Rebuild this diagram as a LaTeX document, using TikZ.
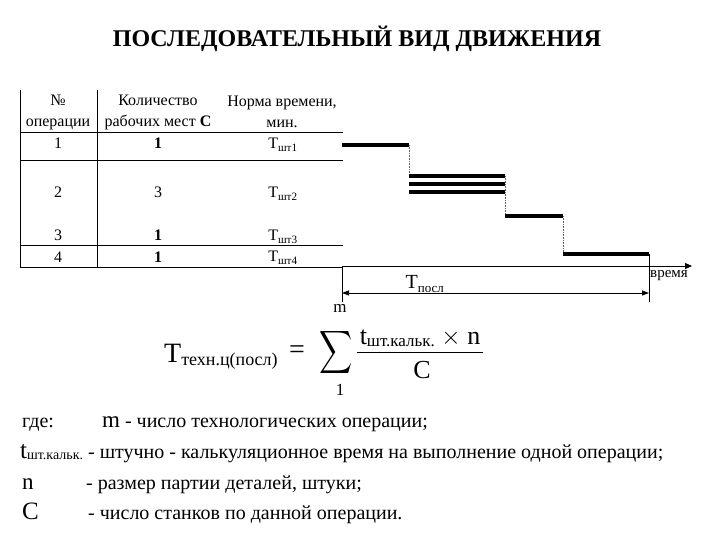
\documentclass[tikz,border=0pt]{standalone}
\usepackage{fontspec}
\newfontfamily\tnr{Liberation Serif}
\usetikzlibrary{arrows.meta}
\begin{document}
\begin{tikzpicture}[x=1pt,y=-1pt,
  tbl/.style={line width=0.8pt},
  bar/.style={line width=4.5pt},
  dots/.style={densely dotted, line width=0.6pt, black!60},
  thin/.style={line width=0.8pt},
  txt/.style={inner sep=0pt, font=\tnr\fontsize{16}{21}\selectfont},
  leg/.style={inner sep=0pt, anchor=base west, font=\tnr\fontsize{20}{22}\selectfont},
]
\useasboundingbox (0,0) rectangle (720,540);
% title
\node[inner sep=0pt, anchor=base, font=\tnr\bfseries\fontsize{24}{26}\selectfont] (title) at (357,47) {ПОСЛЕДОВАТЕЛЬНЫЙ ВИД ДВИЖЕНИЯ};
% table lines
\draw[tbl] (20,90) -- (20,267);
\draw[tbl] (97,90) -- (97,267);
\foreach \yy in {132,160,245,267} \draw[tbl] (20,\yy) -- (343,\yy);
% header
\node[txt, align=center] (h1) at (58,112) {№\\операции};
\node[txt, align=center] (h2) at (158,112) {Количество\\рабочих мест \textbf{С}};
\node[txt, align=center] (h3) at (282,112) {Норма времени,\\мин.};
% rows
\node[txt] (r1a) at (58,143) {1};
\node[txt] (r1b) at (158,143) {\textbf{1}};
\node[txt] (r1c) at (283,145) {Т\textsubscript{шт1}};
\node[txt] (r2a) at (58,192) {2};
\node[txt] (r2b) at (158,192) {3};
\node[txt] (r2c) at (283,194) {Т\textsubscript{шт2}};
\node[txt] (r3a) at (58,235) {3};
\node[txt] (r3b) at (158,235) {\textbf{1}};
\node[txt] (r3c) at (283,237) {Т\textsubscript{шт3}};
\node[txt] (r4a) at (58,257) {4};
\node[txt] (r4b) at (158,257) {\textbf{1}};
\node[txt] (r4c) at (283,258) {Т\textsubscript{шт4}};
% gantt
\draw[bar] (342,145) -- (409,145);
\draw[dots] (409,145) -- (409,176);
\draw[bar] (409,176) -- (505,176);
\draw[bar] (409,184) -- (505,184);
\draw[bar] (409,192) -- (505,192);
\draw[dots] (505,176) -- (505,216);
\draw[bar] (505,216) -- (563,216);
\draw[dots] (563,216) -- (563,254);
\draw[bar] (563,254) -- (649,254);
% axis and bracket
\coordinate (ax0) at (342,266);
\coordinate (ax1) at (692,266);
\coordinate (lb) at (342,302);
\coordinate (rt) at (649,254);
\coordinate (rb) at (649,302);
\coordinate (d0) at (342,293);
\coordinate (d1) at (649,293);
\draw[thin, -{Triangle[length=7pt,width=6pt]}] (ax0) -- (ax1);
\draw[thin] (ax0) -- (lb);
\draw[thin] (rt) -- (rb);
\draw[thin, {Triangle[length=7pt,width=5pt]}-{Triangle[length=7pt,width=5pt]}] (d0) -- (d1);
\node[inner sep=0pt, font=\tnr\fontsize{15}{17}\selectfont] (vr) at (669,276) {время};
\node[inner sep=0pt, font=\tnr\fontsize{20}{22}\selectfont] (tp) at (425,284) {Т\textsubscript{\fontsize{13}{15}\selectfont посл}};
% formula
\node[inner sep=0pt, anchor=base west, font=\tnr\fontsize{28}{30}\selectfont] (ft) at (164,362) {Т\raisebox{-3pt}{\fontsize{18}{20}\selectfont техн.ц(посл)}};
\node[inner sep=0pt, font=\tnr\fontsize{28}{30}\selectfont] (eq) at (297,352) {=};
\node[inner sep=0pt] (sig) at (336,352) {\scalebox{2.3}[3.0]{$\displaystyle\sum$}};
\node[inner sep=0pt, font=\tnr\fontsize{17}{19}\selectfont] (sm) at (340,308) {m};
\node[inner sep=0pt, font=\tnr\fontsize{17}{19}\selectfont] (s1) at (340,390) {1};
\node[inner sep=0pt, anchor=base, font=\tnr\fontsize{26}{28}\selectfont] (num) at (420,344) {t\raisebox{-2pt}{\fontsize{17}{19}\selectfont шт.кальк.} $\times$ n};
\draw[line width=0.8pt] (357,352) -- (483,352);
\node[inner sep=0pt, font=\tnr\fontsize{26}{28}\selectfont] (den) at (422,370) {C};
% legend
\node[leg] (g1) at (22,427) {где:};
\node[leg] (g1b) at (102,427) {{\fontsize{23}{25}\selectfont m} - число технологических операции;};
\node[leg] (g2) at (20,458) {{\fontsize{25}{27}\selectfont t}\raisebox{-1pt}{\fontsize{14}{16}\selectfont шт.кальк.} - штучно - калькуляционное время на выполнение одной операции;};
\node[leg] (g3) at (22,489) {\fontsize{23}{25}\selectfont n};
\node[leg] (g3b) at (86,489) {- размер партии деталей, штуки;};
\node[leg] (g4) at (22,519) {\fontsize{25}{27}\selectfont C};
\node[leg] (g4b) at (88,519) {- число станков по данной операции.};
\end{tikzpicture}
\end{document}
